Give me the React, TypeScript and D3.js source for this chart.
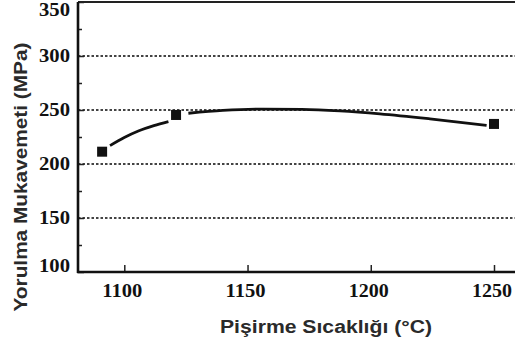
import React, { useEffect, useRef } from "react"
import * as d3 from "d3"

// measured points (temperature °C, strength MPa)
const temps = [1091, 1121, 1250]
const strength = [211.4, 245.4, 237.1]

// fitted curve, in two pieces (gaps at the markers)
const fitLeft: [number, number][] = [[1094.2, 217.0], [1100, 224.5], [1105.7, 230.5], [1112, 235.5], [1117.9, 239.2]]
const fitRight: [number, number][] = [
    [1126, 247.0], [1140, 249.6], [1156.3, 250.9], [1172, 250.6], [1187.5, 249.1], [1203.7, 246.4], [1224, 241.8], [1247, 235.8]
]

const xTicks = [1100, 1150, 1200, 1250]
const yTicks = [100, 150, 200, 250, 300, 350]
const yMinor = [125, 175, 225, 275, 325]
const gridValues = [150, 200, 250, 300]

const xTitle = "Pişirme Sıcaklığı (°C)"
const yTitle = "Yorulma Mukavemeti (MPa)"

const serif = "'Liberation Serif', 'Times New Roman', Times, serif"
const sans = "'Liberation Sans', Arial, Helvetica, sans-serif"

export default function App() {
    const container = useRef<SVGSVGElement>(null)

    useEffect(() => {
        const svg = d3.select(container.current)
        svg.selectAll("*").remove()

        const width = 515
        const height = 347
        const left = 78
        const bottom = 272
        const top = 2

        const x = d3.scaleLinear().domain([1100, 1250]).range([124.3, 494])
        const y = d3.scaleLinear().domain([100, 350]).range([bottom, top])

        svg.attr("width", width).attr("height", height)

        // grid
        svg.append("g")
            .selectAll("line")
            .data(gridValues)
            .enter().append("line")
            .attr("x1", left).attr("x2", width)
            .attr("y1", d => y(d)).attr("y2", d => y(d))
            .attr("stroke", "#444")
            .attr("stroke-width", 1.8)
            .attr("stroke-dasharray", "2.5,2")

        // frame
        svg.append("line")
            .attr("x1", left).attr("x2", width)
            .attr("y1", top).attr("y2", top)
            .attr("stroke", "#222").attr("stroke-width", 2)

        const yAxis = svg.append("g").attr("transform", `translate(${left},0)`)
        yAxis.call(d3.axisRight(y).tickValues(yTicks).tickSize(6).tickFormat(() => ""))
        yAxis.append("g").call(d3.axisRight(y).tickValues(yMinor).tickSize(4).tickFormat(() => ""))
        yAxis.selectAll(".domain").remove()
        yAxis.selectAll("line").attr("stroke", "#222").attr("stroke-width", 1.5)
        yAxis.append("line")
            .attr("y1", top).attr("y2", bottom + 1)
            .attr("stroke", "#111").attr("stroke-width", 2.6)

        yAxis.selectAll("text.lab")
            .data(yTicks)
            .enter().append("text")
            .attr("class", "lab")
            .attr("x", -8)
            .attr("y", d => Math.min(266, Math.max(10, y(d))))
            .attr("dy", "0.35em")
            .attr("text-anchor", "end")
            .style("font-family", serif)
            .attr("font-weight", "bold")
            .attr("font-size", 18)
            .attr("fill", "#111")
            .attr("textLength", 31)
            .attr("lengthAdjust", "spacingAndGlyphs")
            .text(d => d)

        const xAxis = svg.append("g").attr("transform", `translate(0,${bottom})`)
        xAxis.call(d3.axisTop(x).tickValues(xTicks).tickSize(7).tickFormat(() => ""))
        xAxis.selectAll(".domain").remove()
        xAxis.selectAll("line").attr("stroke", "#222").attr("stroke-width", 1.5)
        xAxis.append("line")
            .attr("x1", left - 1).attr("x2", width)
            .attr("stroke", "#111").attr("stroke-width", 2.6)

        xAxis.selectAll("text.lab")
            .data(xTicks)
            .enter().append("text")
            .attr("class", "lab")
            .attr("x", d => x(d) - 2)
            .attr("y", 25)
            .attr("text-anchor", "middle")
            .style("font-family", serif)
            .attr("font-weight", "bold")
            .attr("font-size", 18)
            .attr("fill", "#111")
            .attr("textLength", 40)
            .attr("lengthAdjust", "spacingAndGlyphs")
            .text(d => d)

        // titles
        svg.append("text")
            .attr("x", 326).attr("y", 333)
            .attr("text-anchor", "middle")
            .style("font-family", sans)
            .attr("font-weight", "bold")
            .attr("font-size", 18)
            .attr("fill", "#2a2a2a")
            .attr("textLength", 212)
            .attr("lengthAdjust", "spacingAndGlyphs")
            .text(xTitle)

        svg.append("text")
            .attr("transform", "translate(27,177) rotate(-90)")
            .attr("text-anchor", "middle")
            .style("font-family", sans)
            .attr("font-weight", "bold")
            .attr("font-size", 18)
            .attr("fill", "#2a2a2a")
            .attr("textLength", 269)
            .attr("lengthAdjust", "spacingAndGlyphs")
            .text(yTitle)

        // fitted curve
        const line = d3.line<[number, number]>()
            .x(d => x(d[0]))
            .y(d => y(d[1]))
            .curve(d3.curveMonotoneX)

        svg.selectAll("path.fit")
            .data([fitLeft, fitRight])
            .enter().append("path")
            .attr("class", "fit")
            .attr("d", d => line(d))
            .attr("fill", "none")
            .attr("stroke", "#111")
            .attr("stroke-width", 2.8)

        // markers
        const size = 10
        svg.selectAll("rect.pt")
            .data(temps.map((t, i) => [t, strength[i]]))
            .enter().append("rect")
            .attr("class", "pt")
            .attr("x", d => x(d[0]) - size / 2)
            .attr("y", d => y(d[1]) - size / 2)
            .attr("width", size).attr("height", size)
            .attr("fill", "#111")
    }, [])

    return <svg ref={container} style={{ position: "absolute", left: 0, top: 0, background: "#fff" }} />
}
